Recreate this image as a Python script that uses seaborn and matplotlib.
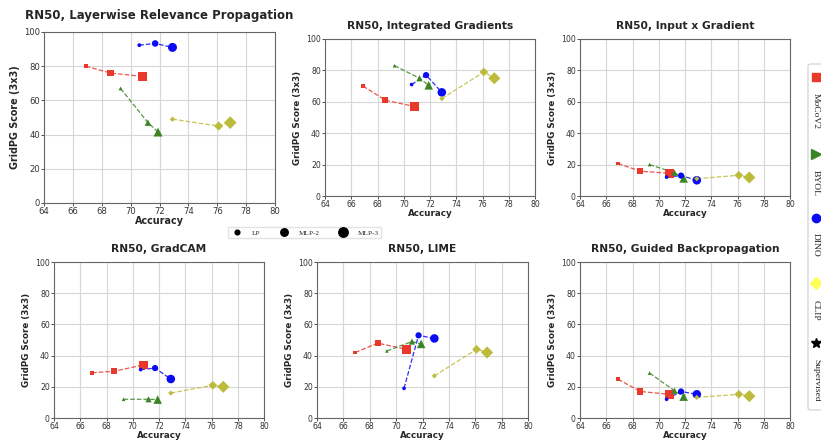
import numpy as np
import pandas as pd
import matplotlib
matplotlib.use("Agg")
import matplotlib.pyplot as plt
import seaborn as sns
from matplotlib.lines import Line2D
from matplotlib.patches import FancyBboxPatch

# Linear-probe accuracy for each pretraining model (LP, MLP-2, MLP-3 heads)
heads = ["LP", "MLP-2", "MLP-3"]
models = ["MoCoV2", "BYOL", "DINO", "CLIP"]
acc_mocov2 = [66.9, 68.6, 70.8]
acc_byol = [69.3, 71.2, 71.9]
acc_dino = [70.6, 71.7, 72.9]
acc_clip = [72.9, 76.1, 76.9]

# GridPG scores per attribution method, per model, per head
methods = ["Layerwise Relevance Propagation", "Integrated Gradients",
           "Input x Gradient", "GradCAM", "LIME", "Guided Backpropagation"]
lrp_mocov2, lrp_byol, lrp_dino, lrp_clip = [80, 76, 74], [67, 47, 41.5], [92.3, 93.3, 91], [49, 45, 47]
ig_mocov2, ig_byol, ig_dino, ig_clip = [70, 61, 57], [83, 75, 70.5], [71, 77, 66], [62, 79, 75]
ixg_mocov2, ixg_byol, ixg_dino, ixg_clip = [20.7, 15.8, 14.5], [20, 14.8, 11.2], [12, 13, 10], [11, 13.2, 11.8]
gc_mocov2, gc_byol, gc_dino, gc_clip = [29, 30, 34], [12, 12, 11.8], [31, 32, 25], [16, 21, 20]
lime_mocov2, lime_byol, lime_dino, lime_clip = [42, 48, 44], [43, 49, 47.5], [19, 53, 51], [27, 44, 42]
gb_mocov2, gb_byol, gb_dino, gb_clip = [24.8, 17, 15.2], [28.8, 17.5, 13.7], [12, 17, 15.2], [13.2, 15.2, 14]

acc = {"MoCoV2": acc_mocov2, "BYOL": acc_byol, "DINO": acc_dino, "CLIP": acc_clip}
scores = {
    methods[0]: dict(zip(models, [lrp_mocov2, lrp_byol, lrp_dino, lrp_clip])),
    methods[1]: dict(zip(models, [ig_mocov2, ig_byol, ig_dino, ig_clip])),
    methods[2]: dict(zip(models, [ixg_mocov2, ixg_byol, ixg_dino, ixg_clip])),
    methods[3]: dict(zip(models, [gc_mocov2, gc_byol, gc_dino, gc_clip])),
    methods[4]: dict(zip(models, [lime_mocov2, lime_byol, lime_dino, lime_clip])),
    methods[5]: dict(zip(models, [gb_mocov2, gb_byol, gb_dino, gb_clip])),
}

rows = []
for meth in methods:
    for m in models:
        for h, a, s in zip(heads, acc[m], scores[meth][m]):
            rows.append(dict(method=meth, model=m, head=h, accuracy=a, score=s))
df = pd.DataFrame(rows)

palette = {"MoCoV2": "#e8392b", "BYOL": "#3b8527", "DINO": "#0a0af5", "CLIP": "#bdbb3c"}
markers = {"MoCoV2": "s", "BYOL": "^", "DINO": "o", "CLIP": "D"}

sns.set_style("whitegrid", {
    "axes.edgecolor": "#666666",
    "grid.color": "#d6d6d6",
    "xtick.bottom": True,
    "ytick.left": True,
    "xtick.color": "#333333",
    "ytick.color": "#333333",
})
plt.rcParams["font.family"] = ["DejaVu Sans"]
plt.rcParams["xtick.major.size"] = 2.2
plt.rcParams["ytick.major.size"] = 2.2
plt.rcParams["xtick.major.width"] = 0.6
plt.rcParams["ytick.major.width"] = 0.6
plt.rcParams["xtick.major.pad"] = 0.6
plt.rcParams["ytick.major.pad"] = 0.8

W, H = 821, 441
fig = plt.figure(figsize=(W / 100, H / 100), dpi=100)

# axes boxes in pixels: left, top, right, bottom
boxes = [(44, 32, 275, 203), (325, 39, 535, 196), (580, 39, 790, 196),
         (54, 262, 264, 418), (317, 262, 528, 418), (580, 262, 790, 418)]

for i, (meth, (l, t, r, b)) in enumerate(zip(methods, boxes)):
    ax = fig.add_axes([l / W, 1 - b / H, (r - l) / W, (b - t) / H])
    k = 1.1 if i == 0 else 1.0
    sub = df[df.method == meth]
    sns.lineplot(data=sub, x="accuracy", y="score", hue="model", palette=palette,
                 units="model", estimator=None, sort=False, linestyle="--",
                 linewidth=0.9, alpha=0.85, legend=False, ax=ax)
    sns.scatterplot(data=sub, x="accuracy", y="score", hue="model", palette=palette,
                    style="model", markers=markers, size="head",
                    sizes={"LP": 7 * k, "MLP-2": 20 * k, "MLP-3": 38 * k},
                    linewidth=0, legend=False, ax=ax, zorder=3)
    ax.set_xlim(64, 80)
    ax.set_ylim(0, 100)
    ax.set_xticks(np.arange(64, 81, 2))
    ax.set_yticks(np.arange(0, 101, 20))
    ax.tick_params(labelsize=5.6 * k)
    for sp in ax.spines.values():
        sp.set_linewidth(0.8)
    ax.grid(linewidth=0.8)
    ax.set_title(f"RN50, {meth}", fontsize=7.7 * k, fontweight="bold",
                 pad=9 if i == 0 else 7)
    ax.set_xlabel("Accuracy", fontsize=6.3 * k, fontweight="bold", labelpad=0)
    ax.set_ylabel("GridPG Score (3x3)", fontsize=6.3 * k, fontweight="bold", labelpad=3)

# head-size legend
size_handles = [Line2D([], [], marker="o", color="black", linestyle="", markersize=ms)
                for ms in (3.4, 5.4, 6.8)]
fig.legend(size_handles, heads, loc="center", bbox_to_anchor=(304.5 / W, 1 - 232.5 / H),
           ncol=3, frameon=True, fancybox=False, edgecolor="#dddddd",
           prop={"family": "Liberation Serif", "size": 5.2},
           handletextpad=1.0, columnspacing=2.3, borderpad=0.35, handlelength=2.0)

# model legend, drawn vertically along the right edge
fig.add_artist(FancyBboxPatch((808 / W, 1 - 410 / H), 20 / W, 346 / H,
                              boxstyle="round,pad=0,rounding_size=0.004",
                              transform=fig.transFigure, facecolor="white",
                              edgecolor="#d0d0d0", linewidth=0.8))
legend_cols = {"MoCoV2": "#e8392b", "BYOL": "#3b8527", "DINO": "#0a0af5",
               "CLIP": "#ffff5c", "Supervised": "black"}
legend_marks = {"MoCoV2": ("s", 6), "BYOL": (">", 6.5), "DINO": ("o", 6),
                "CLIP": ("D", 6.5), "Supervised": ("*", 7)}
legend_labels = ["MoCoV2", "BYOL", "DINO", "CLIP", "Supervised"]
mark_y = [77, 154, 218, 283, 343]
text_y = [93, 170, 233, 300, 359]
for lab, my, ty in zip(legend_labels, mark_y, text_y):
    mk, ms = legend_marks[lab]
    fig.add_artist(Line2D([816 / W], [1 - my / H], marker=mk, markersize=ms,
                          color=legend_cols[lab], linestyle="", transform=fig.transFigure))
    fig.text(816 / W, 1 - ty / H, lab, rotation=270, ha="center", va="top",
             family="Liberation Serif", fontsize=6.8, color="#222222")

fig.savefig("out.png", dpi=100)
